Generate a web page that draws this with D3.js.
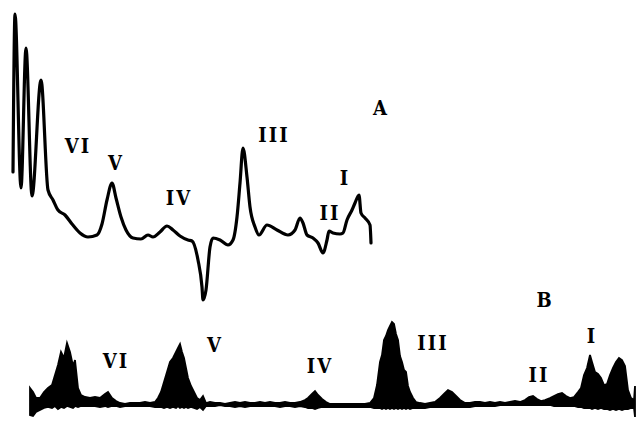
<!DOCTYPE html>
<html>
<head>
<meta charset="utf-8">
<script src="https://cdn.jsdelivr.net/npm/d3@7"></script>
<style>
  body { margin: 0; background: #fff; }
  text { font-family: "DejaVu Serif", "Liberation Serif", serif; font-weight: bold; }
</style>
</head>
<body>
<script>
// trace A (smooth record), channel vs signal
let aX = [0, 2, 8, 13, 19, 28, 35, 40, 45, 52, 59, 67, 75, 84, 89, 94, 99, 103, 108, 113,
  120, 128, 135, 140, 147, 154, 160, 167, 175, 179, 185, 189, 190, 193, 197, 200, 207, 215, 220, 224,
  227, 230, 234, 237, 242, 246, 254, 264, 275, 282, 287, 290, 294, 300, 305, 310, 314, 316, 320, 327,
  330, 334, 339, 342, 346, 348, 352, 357, 358];
let aY = [128, 286, 112, 252, 104, 220, 110, 100, 90, 85, 76, 67, 63, 65, 76, 100, 117, 102, 83, 70,
  62, 61, 65, 63, 68, 74, 70, 64, 60, 59, 40, 13, 0, 10, 53, 62, 60, 55, 60, 83,
  117, 152, 123, 93, 73, 65, 75, 70, 65, 70, 82, 77, 65, 62, 57, 47, 60, 69, 67, 66,
  67, 80, 90, 97, 105, 87, 82, 75, 57];

// trace B (pulse-height record): channel, upper and lower edge of the band
let bX = [0, 3, 6, 10, 14, 18, 22, 25, 28, 31, 34, 37, 40, 43, 45, 48, 51, 55, 60, 65,
  70, 75, 78, 82, 86, 90, 95, 100, 105, 110, 115, 120, 125, 128, 131, 134, 137, 140, 143, 146,
  148, 150, 152, 154, 156, 158, 161, 164, 167, 170, 173, 176, 180, 185, 190, 195, 200, 205, 210, 215,
  220, 225, 230, 235, 240, 245, 250, 255, 260, 265, 270, 275, 278, 282, 285, 288, 292, 296, 300, 305,
  310, 315, 320, 325, 330, 335, 340, 344, 347, 350, 352, 354, 356, 358, 360, 362, 364, 366, 368, 370,
  372, 374, 376, 378, 380, 383, 386, 390, 395, 400, 405, 410, 414, 418, 422, 426, 430, 435, 440, 445,
  450, 455, 460, 465, 470, 475, 480, 485, 490, 495, 499, 503, 507, 511, 515, 520, 524, 528, 532, 536,
  540, 544, 548, 551, 554, 557, 560, 562, 565, 568, 571, 574, 577, 580, 583, 586, 589, 592, 595, 598,
  601, 604, 605];
let bTop = [17, 13, 7, 7, 13, 17, 20, 30, 40, 53, 47, 62, 53, 39, 45, 17, 10, 8, 7, 8,
  7, 11, 13, 7, 4, 2, 1, 2, 2, 2, 3, 2, 3, 7, 13, 23, 33, 43, 47, 53,
  57, 61, 53, 47, 37, 27, 19, 13, 7, 5, 9, 2, 3, 2, 2, 1, 2, 3, 2, 3,
  2, 2, 3, 2, 3, 2, 2, 3, 2, 2, 3, 5, 7, 11, 14, 10, 6, 3, 1, 1,
  1, 1, 1, 1, 1, 1, 2, 7, 20, 43, 50, 65, 69, 75, 79, 83, 81, 71, 65, 49,
  43, 35, 33, 19, 13, 7, 3, 2, 1, 2, 3, 7, 11, 15, 13, 9, 5, 2, 2, 3,
  3, 2, 3, 2, 3, 2, 3, 4, 3, 5, 8, 9, 6, 4, 5, 7, 9, 11, 12, 9,
  7, 8, 13, 17, 30, 37, 50, 43, 33, 31, 27, 20, 21, 30, 37, 43, 47, 45, 39, 15,
  7, 5, 19];
let bLow = [-10, -11, -7, -5, -3, -2, -3, -1, -4, -2, -3, -1, -2, -3, -1, -2, -1, -1, -1, -1,
  -2, -1, -2, -1, -1, -2, -1, -1, -1, -1, -1, -1, -2, -2, -2, -3, -2, -3, -2, -3,
  -1, -3, -2, -3, -2, -3, -2, -3, -4, -2, -5, -1, -1, -1, 0, -1, -1, -2, -1, -2,
  -1, -1, -1, -1, -1, -1, -2, -1, -1, -2, -1, -2, -3, -3, -4, -3, -2, -2, -2, -2,
  -2, -2, -2, -2, -2, -2, -2, -3, -3, -3, -4, -3, -4, -3, -4, -3, -4, -3, -4, -3,
  -4, -3, -4, -3, -4, -3, -3, -3, -3, -2, -2, -2, -2, -2, -2, -2, -2, -2, -2, -1,
  -1, -1, -1, -1, 0, 0, 0, 0, 0, 0, 0, 0, 0, 0, 0, 0, -1, -1, -1, -1,
  -1, -1, -2, -2, -3, -3, -3, -4, -3, -4, -3, -4, -4, -5, -4, -5, -4, -5, -4, -4,
  -3, -3, -12];

// peak labels
let peaksA = ["VI", "V", "IV", "III", "II", "I"];
let peaksAX = [64, 102, 165, 260, 316, 331];
let peaksAY = [147, 130, 95, 158, 80, 115];
let peaksB = ["VI", "V", "IV", "III", "II", "I"];
let peaksBX = [85, 184, 289, 402, 508, 561];
let peaksBY = [37, 53, 32, 55, 23, 62];

let width = 636, height = 422;
let svg = d3.select('body')
  .append('svg')
  .attr('width', width)
  .attr('height', height)
  .style('background', '#fff');

let xA = d3.scaleLinear().domain([0, 360]).range([13, 373]);
let yA = d3.scaleLinear().domain([0, 290]).range([300, 10]);
let xB = d3.scaleLinear().domain([0, 605]).range([30, 635]);
let yB = d3.scaleLinear().domain([0, 90]).range([405, 315]);

// trace A
let lineA = d3.line()
  .x(d => xA(d[0]))
  .y(d => yA(d[1]))
  .curve(d3.curveMonotoneX);

svg.append('path')
  .attr('d', lineA(d3.zip(aX, aY)))
  .attr('fill', 'none')
  .attr('stroke', '#000')
  .attr('stroke-width', 3.2)
  .attr('stroke-linejoin', 'round')
  .attr('stroke-linecap', 'round');

// trace B
let areaB = d3.area()
  .x(d => xB(d[0]))
  .y0(d => yB(d[2]))
  .y1(d => yB(d[1]));

svg.append('path')
  .attr('d', areaB(d3.zip(bX, bTop, bLow)))
  .attr('fill', '#000')
  .attr('stroke', '#000')
  .attr('stroke-width', 1.8)
  .attr('stroke-linejoin', 'miter');

// labels
function label(g, t, x, y) {
  g.append('text')
    .attr('x', x)
    .attr('y', y)
    .attr('text-anchor', 'middle')
    .attr('transform', 'translate(' + x + ',' + y + ') scale(1,1.1) translate(' + (-x) + ',' + (-y) + ')')
    .style('font-size', '18px')
    .style('letter-spacing', '2px')
    .text(t);
}

let gl = svg.append('g');
peaksA.forEach((t, i) => label(gl, t, xA(peaksAX[i]) + 1, yA(peaksAY[i])));
peaksB.forEach((t, i) => label(gl, t, xB(peaksBX[i]) + 1, yB(peaksBY[i])));
label(gl, 'A', xA(368), yA(185));
label(gl, 'B', xB(515), yB(98));
</script>
</body>
</html>
